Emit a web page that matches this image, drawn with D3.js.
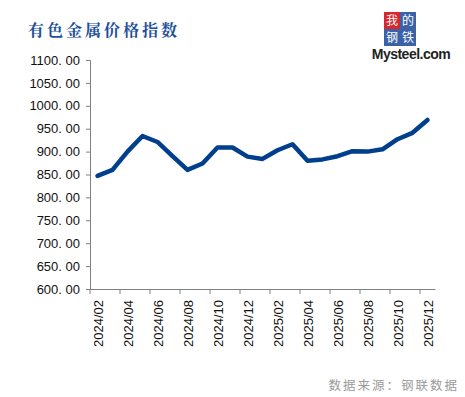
<!DOCTYPE html>
<html lang="zh">
<head>
    <meta charset="UTF-8">
    <title>有色金属价格指数</title>
    <script src="https://cdn.jsdelivr.net/npm/d3@7"></script>
    <style>
        body { margin: 0; background: #fff; }
    </style>
</head>
<body>
    <div id="root"></div>
    <script>
        // monthly index values
        const months = [
            '2024/02', '2024/03', '2024/04', '2024/05', '2024/06', '2024/07',
            '2024/08', '2024/09', '2024/10', '2024/11', '2024/12', '2025/01',
            '2025/02', '2025/03', '2025/04', '2025/05', '2025/06', '2025/07',
            '2025/08', '2025/09', '2025/10', '2025/11', '2025/12'
        ];
        const values = [
            847, 860, 900, 934, 921, 890,
            860, 874, 909, 909, 889, 884,
            903, 916, 880, 883, 890, 901,
            900, 905, 927, 941, 969
        ];
        const yTicks = [600, 650, 700, 750, 800, 850, 900, 950, 1000, 1050, 1100];
        const xLabels = months.filter((m, i) => i % 2 === 0);

        const W = 465, H = 397;
        const svg = d3.select('#root').append('svg')
            .attr('width', W).attr('height', H)
            .style('font-family', 'Arial, "Liberation Sans", sans-serif');

        const x = d3.scaleBand().domain(months).range([90, 435]).padding(0);
        const y = d3.scaleLinear().domain([600, 1100]).range([289, 60]);

        // title
        svg.append('text')
            .attr('x', 28).attr('y', 36)
            .attr('fill', '#1d4f9c')
            .attr('font-size', 16).attr('font-weight', 'bold')
            .attr('letter-spacing', 3)
            .style('font-family', '"Noto Serif CJK SC", "Noto Sans CJK SC", serif')
            .text('有色金属价格指数');

        // logo
        const logo = svg.append('g');
        const boxes = [
            { t: '我', c: '#d7262e', dx: 0, dy: 0 },
            { t: '的', c: '#3b62a8', dx: 16, dy: 0 },
            { t: '钢', c: '#3b62a8', dx: 0, dy: 17 },
            { t: '铁', c: '#3b62a8', dx: 16, dy: 17 }
        ];
        boxes.forEach(b => {
            logo.append('rect')
                .attr('x', 384 + b.dx).attr('y', 12 + b.dy)
                .attr('width', 16).attr('height', 17)
                .attr('fill', b.c);
            logo.append('text')
                .attr('x', 392 + b.dx).attr('y', 25 + b.dy)
                .attr('text-anchor', 'middle')
                .attr('fill', '#fff').attr('font-size', 12)
                .style('font-family', '"Noto Sans CJK SC", sans-serif')
                .text(b.t);
        });
        logo.append('text')
            .attr('x', 411).attr('y', 59)
            .attr('text-anchor', 'middle')
            .attr('fill', '#222').attr('font-size', 14).attr('font-weight', 'bold')
            .attr('letter-spacing', -0.5)
            .text('Mysteel.com');

        // y axis
        const yAxis = svg.append('g')
            .attr('transform', 'translate(90,0)')
            .call(d3.axisLeft(y).tickValues(yTicks).tickSize(4).tickPadding(6)
                .tickFormat(d => d3.format('.2f')(d).replace('.', '. ')));
        yAxis.select('.domain').attr('stroke', '#808080');
        yAxis.selectAll('.tick line').attr('stroke', '#808080');
        yAxis.selectAll('.tick text')
            .attr('fill', '#111').attr('font-size', 13)
            .style('font-family', 'Arial, "Liberation Sans", sans-serif');

        // x axis
        const xAxis = svg.append('g')
            .attr('transform', 'translate(0,289)')
            .call(d3.axisBottom(x).tickValues(xLabels).tickSize(0).tickPadding(0));
        xAxis.select('.domain').attr('stroke', '#808080');
        xAxis.selectAll('.tick text')
            .attr('fill', '#111').attr('font-size', 13)
            .style('font-family', 'Arial, "Liberation Sans", sans-serif')
            .attr('text-anchor', 'end')
            .attr('dy', null)
            .attr('transform', 'translate(5,11) rotate(-90)');
        // tick marks sit on the left edge of every second month
        xAxis.selectAll('.tickmark')
            .data(xLabels)
            .enter().append('line')
            .attr('class', 'tickmark')
            .attr('x1', d => x(d)).attr('x2', d => x(d))
            .attr('y1', 0).attr('y2', 5)
            .attr('stroke', '#808080');

        // line
        const line = d3.line()
            .x((d, i) => x(months[i]) + x.bandwidth() / 2)
            .y(d => y(d));
        svg.append('path')
            .datum(values)
            .attr('d', line)
            .attr('fill', 'none')
            .attr('stroke', '#003f8e')
            .attr('stroke-width', 4.5)
            .attr('stroke-linejoin', 'round')
            .attr('stroke-linecap', 'round');

        // source
        svg.append('text')
            .attr('x', 459).attr('y', 390)
            .attr('text-anchor', 'end')
            .attr('fill', '#9a9a9a').attr('font-size', 12.5)
            .attr('letter-spacing', 2)
            .style('font-family', '"Noto Sans CJK SC", sans-serif')
            .text('数据来源：钢联数据');
    </script>
</body>
</html>
